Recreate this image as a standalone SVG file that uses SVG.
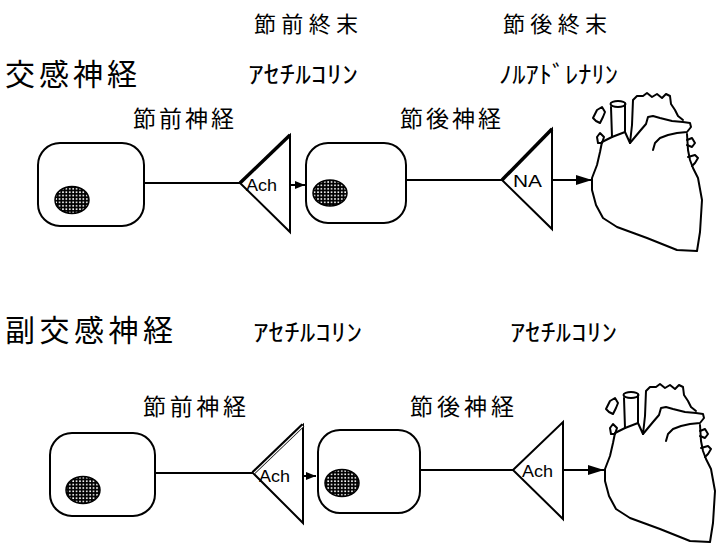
<svg xmlns="http://www.w3.org/2000/svg" xmlns:xlink="http://www.w3.org/1999/xlink" width="723" height="550" viewBox="0 0 723 550">
<style>
.jp{font-family:"Noto Sans CJK JP","Noto Sans CJK SC",sans-serif;fill:#000}
.lat{font-family:"Liberation Sans",Arial,sans-serif;fill:#000;font-size:17px}
.cell{fill:#fff;stroke:#000;stroke-width:2}
.nuc{fill:url(#dots);stroke:#000;stroke-width:1.5}
.tri{fill:#fff;stroke:#000;stroke-width:2;stroke-linejoin:miter}
.edge{stroke:#000;stroke-width:2;fill:none}
.hrt{fill:none;stroke:#000;stroke-width:2;stroke-linejoin:round;stroke-linecap:round}
</style>
<defs>
<pattern id="dots" x="0" y="0" width="3.4" height="3.4" patternUnits="userSpaceOnUse">
<rect width="3.4" height="3.4" fill="#000"/>
<rect x="1" y="1" width="1.6" height="1.6" fill="#fff"/>
</pattern>
<marker id="ahS" markerWidth="10" markerHeight="8" refX="10" refY="4" orient="auto" markerUnits="userSpaceOnUse">
<path d="M0,0 L10,4 L0,8 Z" fill="#000"/>
</marker>
<marker id="ahL" markerWidth="16" markerHeight="10" refX="16" refY="5" orient="auto" markerUnits="userSpaceOnUse">
<path d="M0,0 L16,5 L0,10 Z" fill="#000"/>
</marker>
<g id="heartShape" class="hrt">
<path d="M687,134 L688,150 L690,160 L693,168 L698,178 L702,200 L700,232 L697,251 L677,250 L647,238 L617,227 L603,218 L596,205 L592,190 L592,178 L597,165 L600,152 L602,142 L612,137 L625,132"/>
<path d="M612,137 L611,107"/>
<ellipse cx="618" cy="104" rx="7.5" ry="3"/>
<path d="M625,104 L625,132 L630,143 L632,125 L633,100 L637,96 L643,96 L647,93 L652,97 L657,94 L662,98 L666,94 L670,96 L671,104 L675,110 L678,116 L683,120"/>
<path d="M630,143 L640,131 L646,124 L648,117 L653,116 L660,118 L672,121 L683,122 L690,123 L691,127 L687,132 L677,133 L668,135 L660,138 L655,143 L653,150"/>
<path d="M593,118 L597,110 L602,107 L605,112 L603,117 L600,123 L596,121 Z"/>
<path d="M597,137 L600,133 L604,137 L602,143 L598,143 Z"/>
<path d="M687,140 L692,138 L695,143 L692,147 L687,145"/>
<path d="M688,157 L695,155 L698,158 L695,163 L692,166"/>
</g>
</defs>

<g id="titles">
<text class="jp" x="5" y="85" font-size="30" textLength="132" lengthAdjust="spacing">交感神経</text>
<text class="jp" x="5" y="341" font-size="30" textLength="168" lengthAdjust="spacing">副交感神経</text>
<text class="jp" x="254" y="32" font-size="22" textLength="104" lengthAdjust="spacing">節前終末</text>
<text class="jp" x="503" y="32" font-size="22" textLength="104" lengthAdjust="spacing">節後終末</text>
<text class="jp" x="248" y="83" font-size="24" textLength="110" lengthAdjust="spacingAndGlyphs">ｱｾﾁﾙｺﾘﾝ</text>
<text class="jp" x="499" y="83" font-size="24" textLength="119" lengthAdjust="spacingAndGlyphs">ﾉﾙｱﾄﾞﾚﾅﾘﾝ</text>
<text class="jp" x="133" y="127" font-size="23" textLength="101" lengthAdjust="spacing">節前神経</text>
<text class="jp" x="400" y="127" font-size="23" textLength="101" lengthAdjust="spacing">節後神経</text>
<text class="jp" x="253" y="341" font-size="24" textLength="109" lengthAdjust="spacingAndGlyphs">ｱｾﾁﾙｺﾘﾝ</text>
<text class="jp" x="510" y="341" font-size="24" textLength="107" lengthAdjust="spacingAndGlyphs">ｱｾﾁﾙｺﾘﾝ</text>
<text class="jp" x="143" y="415" font-size="23" textLength="103" lengthAdjust="spacing">節前神経</text>
<text class="jp" x="410" y="415" font-size="23" textLength="104" lengthAdjust="spacing">節後神経</text>
</g>

<g id="connectors">
<line class="edge" x1="144" y1="183" x2="240" y2="183"/>
<line class="edge" x1="283" y1="185" x2="305" y2="185" marker-end="url(#ahS)"/>
<line class="edge" x1="406" y1="180" x2="502" y2="180"/>
<line class="edge" x1="545" y1="180" x2="592" y2="180" marker-end="url(#ahL)"/>
<line class="edge" x1="155" y1="473" x2="253" y2="473"/>
<line class="edge" x1="297" y1="476" x2="316" y2="476" marker-end="url(#ahS)"/>
<line class="edge" x1="420" y1="470" x2="513" y2="470"/>
<line class="edge" x1="559" y1="470" x2="604" y2="470" marker-end="url(#ahL)"/>
</g>

<g id="sym-pre-cell">
<rect class="cell" x="38" y="143" width="106" height="83" rx="22" ry="22"/>
<ellipse class="nuc" cx="72" cy="200" rx="17" ry="13.5"/>
</g>
<g id="sym-pre-terminal">
<path class="tri" d="M240,183 L290,135 L290,232 Z"/>
<line x1="240" y1="183" x2="290" y2="135" stroke="#000" stroke-width="3.5"/>
<text class="lat" x="246" y="191" textLength="31" lengthAdjust="spacingAndGlyphs">Ach</text>
</g>
<g id="sym-post-cell">
<rect class="cell" x="306" y="143" width="100" height="80" rx="22" ry="22"/>
<ellipse class="nuc" cx="330" cy="193" rx="17" ry="13"/>
</g>
<g id="sym-post-terminal">
<path class="tri" d="M502,180 L552,129 L552,229 Z"/>
<line x1="502" y1="180" x2="552" y2="129" stroke="#000" stroke-width="3.5"/>
<text class="lat" x="513" y="187" textLength="29" lengthAdjust="spacingAndGlyphs">NA</text>
</g>
<g id="sym-heart">
<use xlink:href="#heartShape"/>
</g>

<g id="para-pre-cell">
<rect class="cell" x="50" y="433" width="105" height="83" rx="22" ry="22"/>
<ellipse class="nuc" cx="83" cy="490" rx="17" ry="13.5"/>
</g>
<g id="para-pre-terminal">
<path class="tri" d="M253,473 L303,425 L303,523 Z"/>
<line x1="253" y1="473" x2="303" y2="425" stroke="#000" stroke-width="4"/>
<line x1="254" y1="473" x2="303" y2="426" stroke="#fff" stroke-width="1.1"/>
<text class="lat" x="259" y="482" textLength="31" lengthAdjust="spacingAndGlyphs">Ach</text>
</g>
<g id="para-post-cell">
<rect class="cell" x="318" y="430" width="102" height="83" rx="22" ry="22"/>
<ellipse class="nuc" cx="342" cy="483" rx="17" ry="13.5"/>
</g>
<g id="para-post-terminal">
<path class="tri" d="M513,470 L563,422 L563,519 Z"/>
<text class="lat" x="522" y="477" textLength="31" lengthAdjust="spacingAndGlyphs">Ach</text>
</g>
<g id="para-heart">
<use xlink:href="#heartShape" transform="translate(13,291)"/>
</g>
</svg>
